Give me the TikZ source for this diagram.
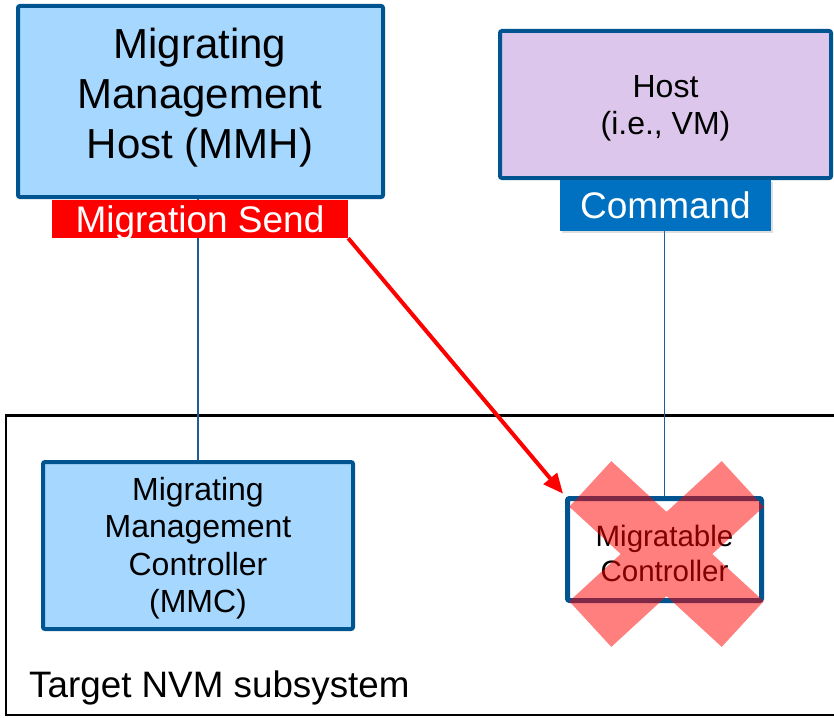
\documentclass[tikz,border=0pt]{standalone}
\usepackage{fontspec}
\setmainfont{Liberation Sans}
\usetikzlibrary{arrows.meta,shadows}
\definecolor{bordblue}{HTML}{00548F}
\definecolor{boxblue}{HTML}{A6D7FF}
\definecolor{lav}{HTML}{DCC6EC}
\definecolor{cmdblue}{HTML}{0070C0}
\definecolor{lineblue}{HTML}{1F5C99}
\definecolor{sendred}{HTML}{FF0000}
\begin{document}
\begin{tikzpicture}[x=1pt,y=-1pt,
  framebox/.style={draw=bordblue, line width=4pt, rounded corners=2pt, inner sep=0pt},
  tagbox/.style={inner sep=0pt, text=white},
  txt/.style={inner sep=0pt, align=center},
  thinline/.style={draw=lineblue, line width=1.5pt},
  sendarrow/.style={draw=sendred, line width=4pt, -{Triangle[length=20pt,width=17pt]}}]
\clip (0,0) rectangle (834,717);
\fill[white] (0,0) rectangle (834,717);

% subsystem frame
\node[draw=black, line width=2.5pt, inner sep=0pt, minimum width=900pt, minimum height=299.7pt] (nvm) at (456.2,565.15) {};
\node[inner sep=0pt, anchor=base west, font=\fontsize{36.8}{43}\selectfont] (nvmtxt) at (29,697) {Target NVM subsystem};

% boxes
\node[framebox, fill=boxblue, minimum width=365pt, minimum height=191pt] (mmh) at (200.5,101.5) {};
\node[framebox, fill=lav, minimum width=331pt, minimum height=147pt] (host) at (665.5,104.5) {};
\node[framebox, fill=boxblue, minimum width=310pt, minimum height=167pt] (mmc) at (198,545.5) {};
\node[framebox, line width=5pt, fill=white, minimum width=194pt, minimum height=102pt] (mig) at (664.5,549.5) {};

% thin connectors
\draw[thinline] (mmh.south -| mmc.north) -- (mmc.north);
\draw[thinline] (host.south -| mig.north) -- (mig.north);

% tags
\node[tagbox, fill=sendred, minimum width=296pt, minimum height=38pt] (send) at (200,219) {};
\node[tagbox, fill=cmdblue, minimum width=211pt, minimum height=51pt,
      drop shadow={shadow xshift=2pt, shadow yshift=-2pt, opacity=0.25}] (cmd) at (665.5,205.5) {};
\node[inner sep=0pt, text=white, anchor=base, font=\fontsize{37}{43}\selectfont] (sendtxt) at (200,232) {Migration Send};
\node[inner sep=0pt, text=white, anchor=base, font=\fontsize{37}{43}\selectfont] (cmdtxt) at (665.5,218) {Command};

% texts
\node[txt, font=\fontsize{42}{50}\selectfont] (mmhtxt) at (200,97.3) {Migrating\\Management\\Host (MMH)};
\node[txt, font=\fontsize{32}{37}\selectfont] (hosttxt) at (665.5,108.6) {Host\\(i.e., VM)};
\node[txt, font=\fontsize{32}{37.5}\selectfont] (mmctxt) at (198,548.2) {Migrating\\Management\\Controller\\(MMC)};
\node[txt, font=\fontsize{29.5}{35}\selectfont] (migtxt) at (664.5,553) {Migratable\\Controller};

% red arrow
\draw[sendarrow, shorten >=3pt] (send.south east) -- (mig.north west);

% cross
\fill[sendred, fill opacity=0.5, nonzero rule]
  (721.71,646.88) -- (763.67,601.24) -- (611.29,461.12) -- (569.33,506.76) -- cycle
  (763.67,506.76) -- (721.71,461.12) -- (569.33,601.24) -- (611.29,646.88) -- cycle;
\end{tikzpicture}
\end{document}
